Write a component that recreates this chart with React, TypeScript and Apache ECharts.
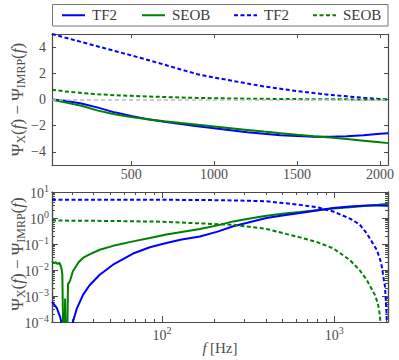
import React, { useEffect, useRef } from "react";
import * as echarts from "echarts";

// ---------- data: top panel (signed phase differences) ----------
const topF = [23, 100, 200, 300, 400, 500, 600, 700, 800, 900, 1000, 1100, 1200, 1300, 1400, 1500, 1600, 1700, 1800, 1900, 2000, 2048];
const topTF2 = [0, -0.1, -0.3, -0.62, -0.98, -1.25, -1.5, -1.7, -1.88, -2.05, -2.2, -2.35, -2.5, -2.62, -2.72, -2.79, -2.84, -2.85, -2.81, -2.73, -2.62, -2.57];
const topSEOB = [-0.02, -0.22, -0.48, -0.85, -1.12, -1.33, -1.5, -1.66, -1.8, -1.93, -2.06, -2.19, -2.32, -2.45, -2.57, -2.69, -2.8, -2.9, -3.02, -3.14, -3.27, -3.33];
const topTF2Dash = [5.0, 4.73, 4.39, 4.05, 3.71, 3.37, 3.02, 2.66, 2.29, 1.93, 1.68, 1.45, 1.22, 1.0, 0.82, 0.64, 0.49, 0.35, 0.24, 0.13, 0.04, 0.0];
const topSEOBDash = [0.75, 0.62, 0.5, 0.4, 0.33, 0.28, 0.23, 0.19, 0.15, 0.12, 0.1, 0.08, 0.06, 0.05, 0.04, 0.03, 0.02, 0.015, 0.01, 0.005, 0.002, 0.0];

// ---------- data: bottom panel (absolute values, log-log) ----------
const botTF2F = [23, 24.5, 25.7, 26.6, 27.5, 28.3, 29.5, 30.4, 32, 34.8, 38, 43.5, 52, 67.9, 85, 106, 130, 166, 210, 259, 330, 404, 500, 631, 790, 985, 1232, 1540, 1800, 2048];
const botTF2V = [6e-4, 3.5e-4, 1.5e-4, 5e-5, 2e-6, 3e-6, 4e-5, 1e-4, 3.2e-4, 1.1e-3, 2.6e-3, 6.6e-3, 0.016, 0.043, 0.075, 0.11, 0.15, 0.195, 0.3, 0.48, 0.72, 1.0, 1.25, 1.55, 1.95, 2.4, 2.75, 3.0, 3.02, 2.95];
const botSEOBF = [23, 23.6, 24.2, 24.8, 25.4, 26.0, 26.4, 26.8, 27.2, 27.4, 27.6, 28.1, 28.5, 28.9, 29.4, 30.4, 31.5, 32.8, 34.8, 38, 43.5, 52, 67.9, 85, 106, 130, 166, 210, 259, 330, 404, 500, 631, 790, 985, 1232, 1540, 1800, 2048];
const botSEOBV = [0.022, 0.018, 0.02, 0.017, 0.019, 0.013, 0.007, 1e-5, 1e-5, 8e-4, 1e-5, 1e-5, 0.003, 0.0032, 0.0043, 0.009, 0.013, 0.02, 0.029, 0.04, 0.06, 0.085, 0.126, 0.17, 0.23, 0.29, 0.38, 0.52, 0.74, 0.98, 1.23, 1.45, 1.7, 2.0, 2.3, 2.6, 2.95, 3.25, 3.55];
const botTF2DashF = [23, 100, 166, 259, 404, 631, 789, 985, 1232, 1400, 1540, 1660, 1761, 1845, 1883, 1967, 2010, 2035];
const botTF2DashV = [5.0, 5.0, 4.95, 4.75, 4.4, 3.2, 2.6, 1.78, 0.95, 0.57, 0.26, 0.115, 0.06, 0.025, 0.014, 0.0023, 2e-4, 1e-6];
const botSEOBDashF = [23, 50, 100, 166, 259, 404, 631, 789, 985, 1232, 1400, 1540, 1720, 1790, 1830, 1855, 1870];
const botSEOBDashV = [0.8, 0.77, 0.72, 0.62, 0.55, 0.38, 0.18, 0.12, 0.068, 0.024, 0.01, 0.0042, 0.0011, 5e-4, 2.2e-4, 8e-5, 1e-6];

// ---------- ticks ----------
const topXTicks = [500, 1000, 1500, 2000];
const topYTicks = [-4, -2, 0, 2, 4];
const botXTicks = [100, 1000];
const botYTicks = [1e-4, 1e-3, 1e-2, 1e-1, 1, 10];
const legendLabels = ["TF2", "SEOB", "TF2", "SEOB"];

const BLUE = "#0000ff";
const GREEN = "#008000";
const AX = "#4a4a4a";
const TXT = "#4d4d4d";
const FONT = "Liberation Serif";
const DASH = [4, 2.5];

const F_MIN = 23;
const F_MAX = 2048;

function minorTicks(lo: number, hi: number, e0: number, e1: number) {
  const out: number[] = [];
  for (let e = e0; e <= e1; e++) {
    for (let k = 2; k <= 9; k++) {
      const v = k * Math.pow(10, e);
      if (v > lo && v < hi) out.push(v);
    }
  }
  return out;
}

const zip = (a: number[], b: number[]) => a.map((x, i) => [x, b[i]]);

function supLabel(v: number) {
  const e = Math.round(Math.log10(v));
  return `{b|10}{s|${e < 0 ? "\u2212" + -e : e}}`;
}

const supRich = {
  b: { fontFamily: FONT, fontSize: 14, color: TXT, verticalAlign: "bottom", lineHeight: 16 },
  s: { fontFamily: FONT, fontSize: 10, color: TXT, verticalAlign: "bottom", lineHeight: 16, padding: [0, 0, 7, 0] },
};

function mkAxis(base: any, position: string, ticks: number[], tickLen: number, label: any) {
  return {
    ...base,
    position,
    axisLine: { show: true, onZero: false, lineStyle: { color: AX, width: 1.2 } },
    axisTick: { show: true, inside: true, length: tickLen, customValues: ticks, lineStyle: { color: AX, width: 1 } },
    axisLabel: label ? { show: true, customValues: ticks, ...label } : { show: false },
    splitLine: { show: false },
    minorTick: { show: false },
  };
}

export default function App() {
  const ref = useRef<HTMLDivElement>(null);
  useEffect(() => {
    if (!ref.current) return;
    const chart = echarts.init(ref.current, undefined, { renderer: "svg" });

    const topX = { gridIndex: 0, type: "value", min: F_MIN, max: F_MAX };
    const topY = { gridIndex: 0, type: "value", min: -5, max: 5 };
    const botX = { gridIndex: 1, type: "log", logBase: 10, min: F_MIN, max: F_MAX };
    const botY = { gridIndex: 1, type: "log", logBase: 10, min: 1e-4, max: 10 };
    const minorX = minorTicks(F_MIN, F_MAX, 1, 3);
    const minorY = minorTicks(1e-4, 10, -4, 0);

    const lbl = { color: TXT, fontFamily: FONT, fontSize: 14 };

    const xAxis = [
      mkAxis(topX, "bottom", topXTicks, 4, { ...lbl, margin: 2, formatter: (v: number) => String(v) }),
      mkAxis(topX, "top", topXTicks, 4, null),
      mkAxis(botX, "bottom", botXTicks, 6, { margin: 4, formatter: supLabel, rich: supRich }),
      mkAxis(botX, "top", botXTicks, 6, null),
      mkAxis(botX, "bottom", minorX, 3, null),
      mkAxis(botX, "top", minorX, 3, null),
    ];
    const yAxis = [
      mkAxis(topY, "left", topYTicks, 4, { ...lbl, margin: 6, formatter: (v: number) => (v < 0 ? "\u2212" + -v : String(v)) }),
      mkAxis(topY, "right", topYTicks, 4, null),
      mkAxis(botY, "left", botYTicks, 6, { margin: 3, formatter: supLabel, rich: supRich }),
      mkAxis(botY, "right", botYTicks, 6, null),
      mkAxis(botY, "left", minorY, 3, null),
      mkAxis(botY, "right", minorY, 3, null),
    ];

    const line = (name: string, data: number[][], color: string, dashed: boolean, xi: number, yi: number, extra: any = {}) => ({
      name,
      type: "line",
      xAxisIndex: xi,
      yAxisIndex: yi,
      data,
      showSymbol: false,
      symbol: "none",
      silent: true,
      clip: true,
      lineStyle: { color, width: 2, type: dashed ? DASH : "solid" },
      ...extra,
    });

    const series = [
      line("TF2", zip(topF, topTF2), BLUE, false, 0, 0, {
        markLine: {
          silent: true,
          symbol: "none",
          label: { show: false },
          lineStyle: { color: "#bdbdbd", type: [4, 3], width: 1.5 },
          data: [{ yAxis: 0 }],
        },
      }),
      line("SEOB", zip(topF, topSEOB), GREEN, false, 0, 0),
      line("TF2 dashed", zip(topF, topTF2Dash), BLUE, true, 0, 0),
      line("SEOB dashed", zip(topF, topSEOBDash), GREEN, true, 0, 0),
      line("SEOB", zip(botSEOBF, botSEOBV), GREEN, false, 2, 2),
      line("TF2", zip(botTF2F, botTF2V), BLUE, false, 2, 2),
      line("TF2 dashed", zip(botTF2DashF, botTF2DashV), BLUE, true, 2, 2),
      line("SEOB dashed", zip(botSEOBDashF, botSEOBDashV), GREEN, true, 2, 2),
    ];

    // legend drawn as graphic (duplicate labels)
    const legX = 52.5, legY = 4.5, legW = 335.5, legH = 21.5;
    const itemX = [62, 142, 234, 313];
    const itemColors = [BLUE, GREEN, BLUE, GREEN];
    const itemDash = [false, false, true, true];
    const legendEls: any[] = [
      { type: "rect", shape: { x: legX, y: legY, width: legW, height: legH }, style: { fill: "#fff", stroke: "#777", lineWidth: 1 } },
    ];
    legendLabels.forEach((t, i) => {
      const y = legY + legH / 2;
      legendEls.push({
        type: "line",
        shape: { x1: itemX[i], y1: y, x2: itemX[i] + 23, y2: y },
        style: { stroke: itemColors[i], lineWidth: 2, lineDash: itemDash[i] ? DASH : null },
      });
      legendEls.push({
        type: "text",
        x: itemX[i] + 30,
        y: y,
        style: { text: t, fill: "#3a3a3a", fontFamily: FONT, fontSize: 15, fontWeight: "normal", align: "left", verticalAlign: "middle" },
      });
    });

    const yLabRich = {
      n: { fontFamily: FONT, fontSize: 17, fontWeight: "normal", fill: TXT },
      it: { fontFamily: FONT, fontSize: 17, fontStyle: "italic", fontWeight: "normal", fill: TXT },
      sub: { fontFamily: FONT, fontSize: 12, fontWeight: "normal", fill: TXT, padding: [8, 0, 0, 0] },
    };
    const yLabText = "{n|\u03A8}{sub|X}{n|(}{it|f}{n|) \u2212 \u03A8}{sub|IMRP}{n|(}{it|f}{n|)}";

    const graphic = [
      ...legendEls,
      { type: "text", x: 17, y: 99.5, rotation: Math.PI / 2, style: { text: yLabText, rich: yLabRich, align: "center", verticalAlign: "middle" } },
      { type: "text", x: 17, y: 254, rotation: Math.PI / 2, style: { text: yLabText, rich: yLabRich, align: "center", verticalAlign: "middle" } },
      {
        type: "text",
        x: 220,
        y: 348,
        style: {
          text: "{it|f} {n|[Hz]}",
          rich: {
            n: { fontFamily: FONT, fontSize: 15, fontWeight: "normal", fill: TXT },
            it: { fontFamily: FONT, fontSize: 15, fontStyle: "italic", fontWeight: "normal", fill: TXT },
          },
          align: "center",
          verticalAlign: "middle",
        },
      },
    ];

    chart.setOption({
      animation: false,
      backgroundColor: "#fff",
      grid: [
        { left: 52, top: 34, width: 336, height: 131, containLabel: false },
        { left: 52, top: 192, width: 336, height: 130, containLabel: false },
      ],
      xAxis,
      yAxis,
      series,
      graphic,
    });
    return () => chart.dispose();
  }, []);
  return <div ref={ref} style={{ width: 399, height: 360, position: "absolute", left: 0, top: 0 }} />;
}
